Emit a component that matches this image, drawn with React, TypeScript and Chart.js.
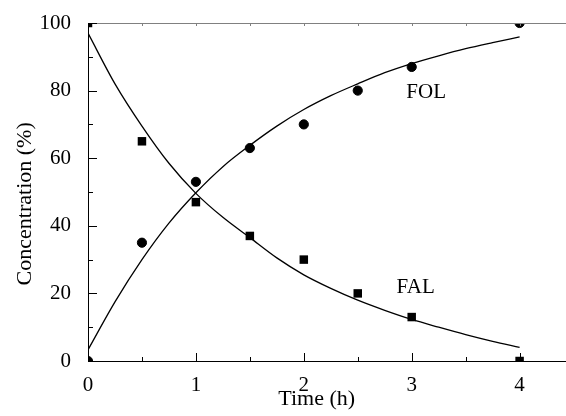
import React, { useEffect, useRef } from 'react';
import { Chart, registerables } from 'chart.js';

Chart.register(...registerables);

// Measured points
const timeMeasured = [0, 0.5, 1, 1.5, 2, 2.5, 3, 4];
const folMeasured = [0, 35, 53, 63, 70, 80, 87, 100];
const falMeasured = [100, 65, 47, 37, 30, 20, 13, 0];

// Fitted curves
const timeFit = [0, 0.25, 0.5, 0.75, 1, 1.25, 1.5, 1.75, 2, 2.25, 2.5, 2.75, 3, 3.25, 3.5, 3.75, 4];
const folFit = [3.3, 17.5, 30, 40.8, 49.8, 57.5, 63.8, 69.5, 74.4, 78.5, 82, 85.3, 88, 90.3, 92.4, 94.2, 95.9];
const falFit = [97, 82, 69.5, 58.5, 49.6, 42.5, 36.5, 30.5, 25.5, 21.5, 18, 15, 12.3, 10, 7.8, 5.8, 4];

// Axes
const xMin = 0;
const xMax = 4.43;
const yMin = 0;
const yMax = 100;
const xTicks = [0, 1, 2, 3, 4];
const xMinorTicks = [0.5, 1.5, 2.5, 3.5];
const yTicks = [0, 20, 40, 60, 80, 100];
const yMinorTicks = [10, 30, 50, 70, 90];
const topTicks = [0, 0.5, 1, 1.5, 2, 2.5, 3, 3.5, 4];
const xTitle = 'Time (h)';
const yTitle = 'Concentration (%)';

// Curve labels
const curveLabels = ['FOL', 'FAL'];
const curveLabelX = [2.95, 2.86];
const curveLabelY = [79.4, 21.7];

const FONT_FAMILY = '"Liberation Serif", "Times New Roman", serif';
const FONT_SIZE = 21;
const TITLE_SIZE = 22;

const frameTicksPlugin = {
  id: 'frameTicks',
  afterDatasetsDraw(chart: any) {
    const { ctx, chartArea, scales } = chart;
    const xs = scales.x;
    const ys = scales.y;
    const { left, right, top, bottom } = chartArea;
    ctx.save();
    ctx.lineWidth = 1;
    // top border (gray)
    ctx.strokeStyle = '#808080';
    ctx.beginPath();
    ctx.moveTo(left, top + 0.5);
    ctx.lineTo(right, top + 0.5);
    ctx.stroke();
    topTicks.forEach((v) => {
      const px = Math.round(xs.getPixelForValue(v)) + 0.5;
      ctx.beginPath();
      ctx.moveTo(px, top);
      ctx.lineTo(px, top + 3);
      ctx.stroke();
    });
    // left & bottom axes (black)
    ctx.strokeStyle = '#000';
    ctx.beginPath();
    ctx.moveTo(left + 0.5, top);
    ctx.lineTo(left + 0.5, bottom + 0.5);
    ctx.lineTo(right, bottom + 0.5);
    ctx.stroke();
    const yTick = (v: number, len: number) => {
      const py = Math.round(ys.getPixelForValue(v)) + 0.5;
      ctx.beginPath();
      ctx.moveTo(left, py);
      ctx.lineTo(left + len, py);
      ctx.stroke();
    };
    const xTick = (v: number, len: number) => {
      const px = Math.round(xs.getPixelForValue(v)) + 0.5;
      ctx.beginPath();
      ctx.moveTo(px, bottom + 1);
      ctx.lineTo(px, bottom + 1 - len);
      ctx.stroke();
    };
    yTicks.forEach((v) => yTick(v, 9));
    yMinorTicks.forEach((v) => yTick(v, 5));
    xTicks.forEach((v) => xTick(v, 9));
    xMinorTicks.forEach((v) => xTick(v, 5));
    // curve labels
    ctx.fillStyle = '#000';
    ctx.font = `${FONT_SIZE}px ${FONT_FAMILY}`;
    ctx.textAlign = 'left';
    ctx.textBaseline = 'middle';
    curveLabels.forEach((t, i) => {
      ctx.fillText(t, xs.getPixelForValue(curveLabelX[i]), ys.getPixelForValue(curveLabelY[i]));
    });
    // axis titles
    ctx.font = `${TITLE_SIZE}px ${FONT_FAMILY}`;
    ctx.textAlign = 'center';
    ctx.textBaseline = 'middle';
    ctx.fillText(xTitle, xs.getPixelForValue(2.12), bottom + 38);
    ctx.save();
    ctx.translate(25, ys.getPixelForValue(46.5));
    ctx.rotate(-Math.PI / 2);
    ctx.fillText(yTitle, 0, 0);
    ctx.restore();
    ctx.restore();
  },
};

export default function App() {
  const canvasRef = useRef<HTMLCanvasElement | null>(null);

  useEffect(() => {
    if (!canvasRef.current) return;
    const font = { family: FONT_FAMILY, size: FONT_SIZE };
    const chart = new Chart(canvasRef.current, {
      type: 'scatter',
      data: {
        datasets: [
          {
            label: 'FOL fit',
            type: 'line',
            data: timeFit.map((t, i) => ({ x: t, y: folFit[i] })),
            borderColor: '#000',
            borderWidth: 1.3,
            pointRadius: 0,
            fill: false,
            showLine: true,
            cubicInterpolationMode: 'monotone',
          },
          {
            label: 'FAL fit',
            type: 'line',
            data: timeFit.map((t, i) => ({ x: t, y: falFit[i] })),
            borderColor: '#000',
            borderWidth: 1.3,
            pointRadius: 0,
            fill: false,
            showLine: true,
            cubicInterpolationMode: 'monotone',
          },
          {
            label: 'FOL',
            data: timeMeasured.map((t, i) => ({ x: t, y: folMeasured[i] })),
            pointStyle: 'circle',
            pointRadius: 4.6,
            pointBorderWidth: 1,
            backgroundColor: '#000',
            borderColor: '#000',
            clip: 0,
          },
          {
            label: 'FAL',
            data: timeMeasured.map((t, i) => ({ x: t, y: falMeasured[i] })),
            pointStyle: 'rect',
            pointRadius: 6,
            pointBorderWidth: 0,
            backgroundColor: '#000',
            borderColor: '#000',
            clip: 0,
          },
        ],
      } as any,
      options: {
        responsive: false,
        animation: false,
        layout: { autoPadding: false, padding: { top: 23, right: 0, left: 0, bottom: 0 } },
        plugins: {
          legend: { display: false },
          tooltip: { enabled: false },
        },
        scales: {
          x: {
            type: 'linear',
            min: xMin,
            max: xMax,
            afterBuildTicks: (s: any) => {
              s.ticks = xTicks.map((v) => ({ value: v }));
            },
            afterFit: (s: any) => {
              s.height = 55;
              s.paddingLeft = 0;
              s.paddingRight = 0;
            },
            ticks: { font, color: '#000', padding: 4, maxRotation: 0, autoSkip: false },
            grid: { display: false },
            border: { display: false },
            title: { display: false },
          },
          y: {
            type: 'linear',
            min: yMin,
            max: yMax,
            afterBuildTicks: (s: any) => {
              s.ticks = yTicks.map((v) => ({ value: v }));
            },
            afterFit: (s: any) => {
              s.width = 88;
              s.paddingTop = 0;
              s.paddingBottom = 0;
            },
            ticks: { font, color: '#000', padding: 9 },
            grid: { display: false },
            border: { display: false },
            title: { display: false },
          },
        },
      } as any,
      plugins: [frameTicksPlugin],
    });
    return () => chart.destroy();
  }, []);

  return (
    <div style={{ position: 'absolute', left: 0, top: 0, width: 566, height: 416, background: '#fff' }}>
      <canvas ref={canvasRef} width={566} height={416} style={{ display: 'block' }} />
    </div>
  );
}
